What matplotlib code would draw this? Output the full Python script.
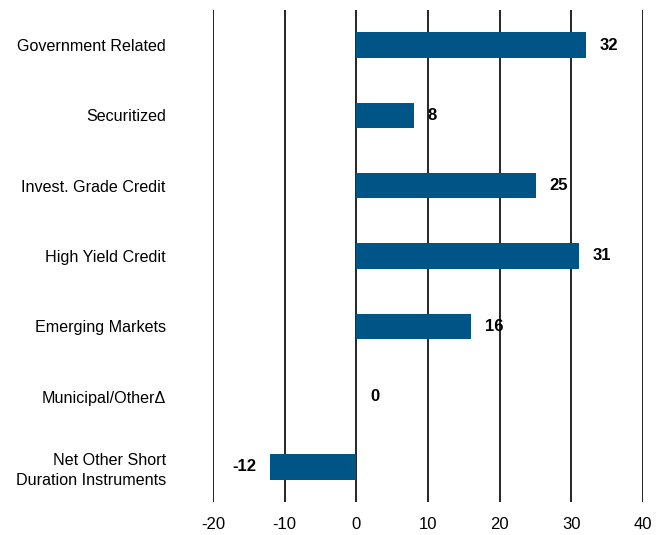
import matplotlib.pyplot as plt

plt.rcParams['font.family'] = ['Liberation Sans', 'DejaVu Sans']

# sector contributions
categories = [
    "Government Related",
    "Securitized",
    "Invest. Grade Credit",
    "High Yield Credit",
    "Emerging Markets",
    "Municipal/Other\u0394",
    "Net Other Short\nDuration Instruments",
]
values = [32, 8, 25, 31, 16, 0, -12]
xticks = [-20, -10, 0, 10, 20, 30, 40]

bar_color = "#005587"

fig = plt.figure(figsize=(6.65, 5.35), dpi=100)
ax = fig.add_axes([213 / 665, 33 / 535, 430 / 665, 492 / 535])

y = list(range(len(categories)))
ax.barh(y, values, height=0.36, color=bar_color, zorder=3)

# value labels sit 2 units past the bar end
for yi, v in zip(y, values):
    if v < 0:
        ax.text(v - 2, yi, str(v), ha="right", va="center",
                fontsize=12, fontweight="bold", zorder=4)
    else:
        ax.text(v + 2, yi, str(v), ha="left", va="center",
                fontsize=12, fontweight="bold", zorder=4)

ax.set_xlim(-20, 40)
ax.set_ylim(len(categories) - 0.5, -0.5)
ax.set_xticks(xticks)
ax.set_xticklabels([str(t) for t in xticks], fontsize=12)
ax.set_yticks(y)
ax.set_yticklabels(categories, fontsize=11.6, linespacing=1.35)
ax.tick_params(axis="both", length=0)
ax.tick_params(axis="x", pad=11)
ax.tick_params(axis="y", pad=34)

ax.grid(axis="x", color="black", linewidth=1.2, zorder=1)
ax.grid(axis="y", visible=False)
for s in ax.spines.values():
    s.set_visible(False)

fig.savefig("out.png", dpi=100)
